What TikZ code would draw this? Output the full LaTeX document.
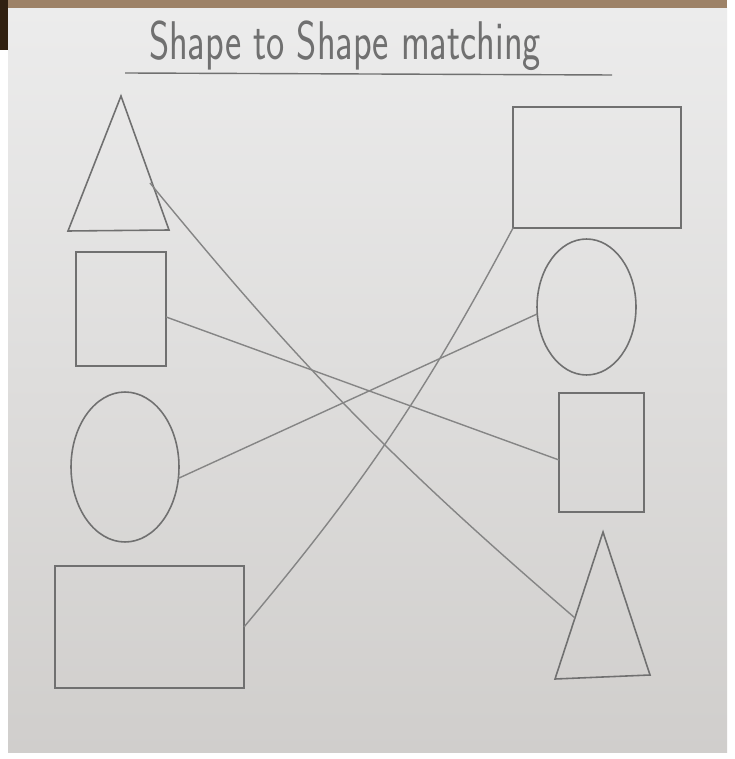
\documentclass[tikz,border=0pt]{standalone}
\usepackage{tikz}
\usetikzlibrary{shapes.geometric,positioning}
\definecolor{pencil}{RGB}{112,112,112}
\definecolor{paperTop}{RGB}{236,236,236}
\definecolor{paperBot}{RGB}{208,206,204}
\begin{document}
\begin{tikzpicture}[x=0.02cm, y=-0.02cm,
        shapebox/.style={draw=pencil, line width=0.9pt, inner sep=0pt, outer sep=0pt},
        oval/.style={ellipse, draw=pencil, line width=0.9pt, inner sep=0pt, outer sep=0pt},
        match/.style={draw=pencil!85, line width=0.8pt},
        title/.style={font=\fontsize{31}{31}\selectfont\sffamily, text=pencil, xscale=0.71, inner sep=0pt}
      ]
        \useasboundingbox (0,0) rectangle (734,759);
        % paper
        \fill[white] (0,0) rectangle (734,759);
        \shade[top color=paperTop, bottom color=paperBot] (8,8) rectangle (727,752);
        \fill[brown!60!black!70] (8,0) rectangle (727,8);
        \fill[black!75!brown] (0,0) rectangle (8,50);

        \node[title, anchor=base] (head) at (345,60) {Shape to Shape matching};
        \draw[pencil, line width=0.8pt] (125,73) -- (612,75);

        % left column
        \coordinate (la) at (121,96);
        \coordinate (lb) at (68,231);
        \coordinate (lc) at (169,230);
        \draw[pencil, line width=0.9pt] (la) -- (lb) -- (lc) -- cycle;
        \coordinate (ltri) at (150,183);
        \node[shapebox, minimum width=1.8cm, minimum height=2.28cm] (lsq) at (121,309) {};
        \node[oval, minimum width=2.16cm, minimum height=3cm] (lell) at (125,467) {};
        \node[shapebox, minimum width=3.78cm, minimum height=2.44cm] (lrect) at (149.5,627) {};

        % right column
        \node[shapebox, minimum width=3.36cm, minimum height=2.42cm] (rrect) at (597,167.5) {};
        \node[oval, minimum width=1.98cm, minimum height=2.72cm] (rell) at (586.5,307) {};
        \node[shapebox, minimum width=1.7cm, minimum height=2.38cm] (rsq) at (601.5,452.5) {};
        \coordinate (ra) at (603,532);
        \coordinate (rb) at (555,679);
        \coordinate (rc) at (650,675);
        \draw[pencil, line width=0.9pt] (ra) -- (rb) -- (rc) -- cycle;
        \coordinate (rtri) at (575,618);

        % matching lines
        \draw[match] (ltri) to[bend right=5] (rtri);
        \draw[match] (lsq.-10) -- (rsq.190);
        \draw[match] (lell.-12) -- (rell.188);
        \draw[match] (lrect.east) to[bend right=6] (rrect.south west);
      \end{tikzpicture}
\end{document}
